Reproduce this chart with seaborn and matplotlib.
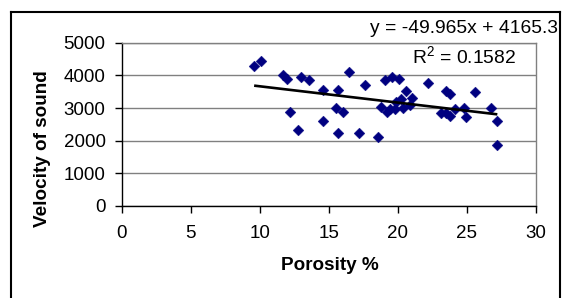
import matplotlib
matplotlib.use("Agg")
import matplotlib.pyplot as plt
import seaborn as sns
import pandas as pd
from matplotlib.lines import Line2D

porosity = [9.6, 10.1, 11.7, 12.0, 13.0, 13.55, 14.6, 15.65, 12.2, 12.8, 14.6, 15.55,
            15.65, 16.45, 17.6, 16.0, 17.2, 18.6, 19.05, 19.55, 20.1, 20.6, 21.05, 18.75,
            19.25, 19.45, 19.8, 19.9, 20.25, 20.35, 20.9, 22.2, 23.5, 23.75, 25.6, 23.15,
            23.5, 23.75, 24.17, 24.77, 24.95, 26.75, 27.15, 27.2]
velocity = [4300, 4450, 4000, 3900, 3950, 3850, 3550, 3550, 2890, 2340, 2610, 2990,
            2250, 4090, 3710, 2880, 2250, 2110, 3850, 3950, 3900, 3530, 3310, 3020,
            2890, 2970, 2960, 3190, 3290, 2990, 3090, 3760, 3530, 3430, 3480, 2840,
            2860, 2756, 2980, 3000, 2710, 3000, 2610, 1880]
slope = -49.965
intercept = 4165.3
r_squared = 0.1582
x_ticks = [0, 5, 10, 15, 20, 25, 30]
y_ticks = [0, 1000, 2000, 3000, 4000, 5000]

sns.set_style("white")
plt.rcParams['font.family'] = ['Liberation Sans', 'DejaVu Sans']
plt.rcParams['text.color'] = 'black'
plt.rcParams['mathtext.fontset'] = 'custom'
plt.rcParams['mathtext.rm'] = 'Liberation Sans'
plt.rcParams['mathtext.it'] = 'Liberation Sans'

W, H = 564, 298
fig = plt.figure(figsize=(W / 100, H / 100), dpi=100)
ax = fig.add_axes([121.5 / W, 1 - 206 / H, (536 - 121.5) / W, (206 - 42.7) / H])

df = pd.DataFrame({"Porosity %": porosity, "Velocity of sound": velocity})

ax.set_xlim(0, 30)
ax.set_ylim(0, 5000)
ax.set_yticks(y_ticks)
ax.set_xticks(x_ticks)
ax.grid(axis='y', color='#808080', linewidth=1.0)
ax.grid(axis='x', visible=False)
ax.set_axisbelow(True)

sns.scatterplot(data=df, x="Porosity %", y="Velocity of sound", ax=ax,
                marker='D', s=30, color='#000080', edgecolor='#000080',
                linewidth=0.3, zorder=3)

xs = [min(porosity), max(porosity)]
ys = [slope * v + intercept for v in xs]
ax.plot(xs, ys, color='black', linewidth=1.9, zorder=4, solid_capstyle='butt')

for side in ['top', 'right']:
    ax.spines[side].set_color('#808080')
    ax.spines[side].set_linewidth(1.0)
for side in ['left', 'bottom']:
    ax.spines[side].set_color('black')
    ax.spines[side].set_linewidth(1.0)

ax.tick_params(axis='both', which='major', direction='out', length=5, width=1.0,
               color='black', labelsize=13.5, labelcolor='black',
               bottom=True, left=True)
ax.tick_params(axis='x', pad=8.5)
ax.tick_params(axis='y', pad=6.5)
ax.set_xlabel("")
ax.set_ylabel("")

fig.text(330 / W, 1 - 266 / H, "Porosity %", ha='center', va='center',
         fontsize=13.6, fontweight='bold', color='black')
fig.text(43 / W, 1 - 149 / H, "Velocity of sound", ha='center', va='center',
         rotation=90, fontsize=13.6, fontweight='bold', color='black')

fig.text(558 / W, 1 - 33 / H, f"y = {slope}x + {intercept}", ha='right',
         va='baseline', fontsize=13.9, color='black')
fig.text(516 / W, 1 - 63 / H, f"R$^2$ = {r_squared}", ha='right',
         va='baseline', fontsize=13.9, color='black')

fx0, fx1 = 10.7 / W, 560 / W
fy_top = 1 - 11.7 / H
for xd, yd in [([fx0, fx0], [-0.05, fy_top]), ([fx0, fx1], [fy_top, fy_top]),
               ([fx1, fx1], [fy_top, -0.05])]:
    fig.add_artist(Line2D(xd, yd, transform=fig.transFigure, color='black',
                          linewidth=1.5, solid_capstyle='projecting'))

fig.savefig("out.png", dpi=100)
